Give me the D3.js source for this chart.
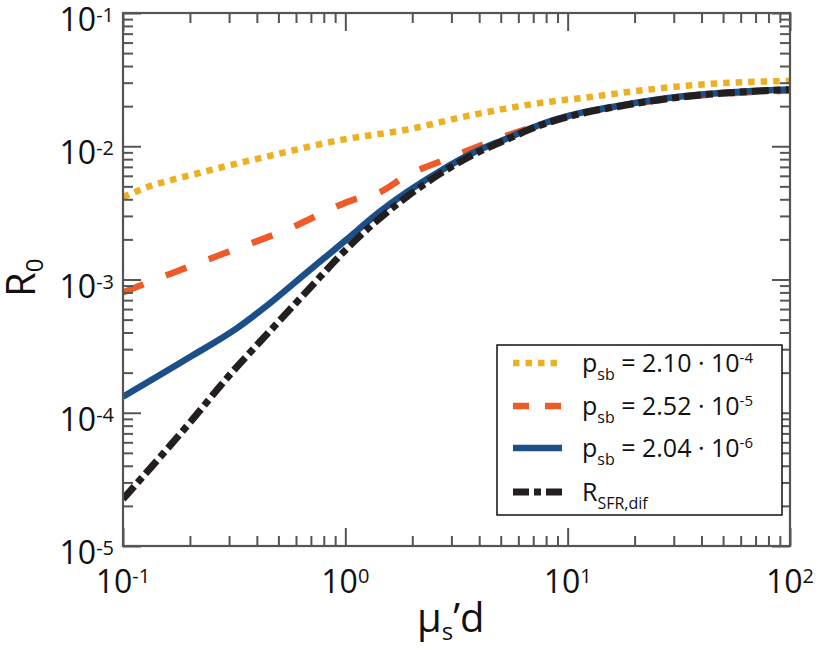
<!DOCTYPE html>
<html>
<head>
<meta charset="utf-8">
<script src="https://cdn.jsdelivr.net/npm/d3@7"></script>
<style>
  html, body { margin: 0; padding: 0; background: #fff; }
  svg text { font-family: "Open Sans", "Noto Sans", sans-serif; fill: #111; }
</style>
</head>
<body>
<svg id="chart" width="819" height="650"></svg>
<script>
// ---- data ----
const yellowX = [0.1, 0.123, 0.22, 0.49, 0.94, 1.88, 3.74, 8.3, 11.3, 23.4, 46.6, 100];
const yellowY = [4.15e-3, 4.8e-3, 6.3e-3, 8.7e-3, 1.11e-2, 1.33e-2, 1.72e-2, 2.16e-2, 2.29e-2, 2.67e-2, 2.96e-2, 3.09e-2];

const orangeX = [0.1, 0.174, 0.3, 0.52, 1.16, 1.4, 1.88, 3.04, 4.8, 7.5, 11.3, 16.6, 33, 50, 100];
const orangeY = [8.0e-4, 1.15e-3, 1.62e-3, 2.29e-3, 4.1e-3, 4.45e-3, 6.0e-3, 8.35e-3, 1.13e-2, 1.45e-2, 1.77e-2, 1.98e-2, 2.34e-2, 2.48e-2, 2.62e-2];

const blueX = [0.1, 0.2, 0.3245, 0.458, 0.692, 0.852, 1.0, 1.43, 1.88, 2.66, 3.74, 5.3, 7.5, 11.3, 16.6, 33, 50, 100];
const blueY = [1.32e-4, 2.62e-4, 4.3e-4, 6.64e-4, 1.18e-3, 1.57e-3, 1.96e-3, 3.23e-3, 4.5e-3, 6.5e-3, 8.9e-3, 1.14e-2, 1.45e-2, 1.77e-2, 2.0e-2, 2.37e-2, 2.52e-2, 2.67e-2];

const blackX = [0.1, 0.2, 0.3, 0.47, 0.7, 1.0, 1.33, 1.88, 2.66, 3.74, 5.3, 7.5, 11.3, 16.6, 33, 50, 100];
const blackY = [2.25e-5, 8.45e-5, 1.9e-4, 4.3e-4, 8.8e-4, 1.66e-3, 2.6e-3, 4.15e-3, 6.2e-3, 8.6e-3, 1.12e-2, 1.43e-2, 1.75e-2, 1.98e-2, 2.35e-2, 2.5e-2, 2.66e-2];

const legendLabels = [
  { main: "p", sub: "sb", rest: " = 2.10 · 10", sup: "-4" },
  { main: "p", sub: "sb", rest: " = 2.52 · 10", sup: "-5" },
  { main: "p", sub: "sb", rest: " = 2.04 · 10", sup: "-6" },
  { main: "R", sub: "SFR,dif", rest: "", sup: "" }
];

const xTickExps = [-1, 0, 1, 2];
const yTickExps = [-1, -2, -3, -4, -5];

// ---- layout ----
const svg = d3.select("#chart");
const L = 123, R = 790, T = 13, B = 546;
const x = d3.scaleLog().domain([0.1, 100]).range([L, R]);
const y = d3.scaleLog().domain([1e-5, 1e-1]).range([B, T]);

const series = [
  { xs: yellowX, ys: yellowY, color: "#ecb022", width: 6.5, dash: "6.5,6", legDash: "6.5,6" },
  { xs: orangeX, ys: orangeY, color: "#f05a28", width: 6.5, dash: "22,24", legDash: "16,16" },
  { xs: blueX, ys: blueY, color: "#1c4f88", width: 6.5, dash: null, legDash: null },
  { xs: blackX, ys: blackY, color: "#231f20", width: 7, dash: "17,5,7,5", legDash: "16,5,7,5" }
];

// clip
svg.append("defs").append("clipPath").attr("id", "clip")
  .append("rect").attr("x", L).attr("y", T).attr("width", R - L).attr("height", B - T);

const line = d3.line().x(d => x(d[0])).y(d => y(d[1])).curve(d3.curveMonotoneX);
const plot = svg.append("g").attr("clip-path", "url(#clip)");
series.forEach(s => {
  const pts = s.xs.map((v, i) => [v, s.ys[i]]);
  plot.append("path")
    .attr("d", line(pts))
    .attr("fill", "none")
    .attr("stroke", s.color)
    .attr("stroke-width", s.width)
    .attr("stroke-linecap", "butt")
    .attr("stroke-linejoin", "round")
    .attr("stroke-dasharray", s.dash);
});

// ---- axes (inward ticks, all four sides) ----
const axisColor = "#555";
const majorX = xTickExps.map(e => Math.pow(10, e));
const majorY = yTickExps.map(e => Math.pow(10, e));
const minorX = x.ticks().filter(v => !majorX.some(m => Math.abs(m - v) / m < 1e-6));
const minorY = y.ticks().filter(v => !majorY.some(m => Math.abs(m - v) / m < 1e-6));
const MAJ = 18, MIN = 10;

function styleAxis(g) {
  g.selectAll("path.domain").remove();
  g.selectAll("line").attr("stroke", axisColor).attr("stroke-width", 2);
  g.selectAll("text").remove();
}
function addAxis(gen, tx, ty, vals, size) {
  svg.append("g").attr("transform", `translate(${tx},${ty})`)
    .call(gen.tickValues(vals).tickSizeInner(-size).tickSizeOuter(0).tickFormat(""))
    .call(styleAxis);
}
addAxis(d3.axisBottom(x), 0, B, majorX, MAJ);
addAxis(d3.axisBottom(x), 0, B, minorX, MIN);
addAxis(d3.axisTop(x), 0, T, majorX, MAJ);
addAxis(d3.axisTop(x), 0, T, minorX, MIN);
addAxis(d3.axisLeft(y), L, 0, majorY, MAJ);
addAxis(d3.axisLeft(y), L, 0, minorY, MIN);
addAxis(d3.axisRight(y), R, 0, majorY, MAJ);
addAxis(d3.axisRight(y), R, 0, minorY, MIN);

svg.append("rect").attr("x", L).attr("y", T).attr("width", R - L).attr("height", B - T)
  .attr("fill", "none").attr("stroke", axisColor).attr("stroke-width", 2.2);

// ---- tick labels ----
xTickExps.forEach(e => {
  const t = svg.append("text").attr("x", x(Math.pow(10, e))).attr("y", 593)
    .attr("text-anchor", "middle").style("font-size", "32px");
  t.append("tspan").text("10");
  t.append("tspan").attr("dy", -10).style("font-size", "20px").text(String(e));
});
yTickExps.forEach(e => {
  const t = svg.append("text").attr("x", 114).attr("y", y(Math.pow(10, e)) + 18)
    .attr("text-anchor", "end").style("font-size", "32px");
  t.append("tspan").text("10");
  t.append("tspan").attr("dy", -9).style("font-size", "20px").text(String(e));
});

// ---- axis titles ----
const yl = svg.append("text").attr("transform", "translate(35,297) rotate(-90)")
  .style("font-size", "40px");
yl.append("tspan").text("R");
yl.append("tspan").attr("dy", 8).style("font-size", "24px").text("0");

const xl = svg.append("text").attr("x", 417).attr("y", 632).style("font-size", "40px");
xl.append("tspan").text("μ");
xl.append("tspan").attr("dy", 8).style("font-size", "24px").text("s");
xl.append("tspan").attr("dy", -8).text("’d");

// ---- legend ----
const leg = svg.append("g");
leg.append("rect").attr("x", 497).attr("y", 345).attr("width", 285).attr("height", 170)
  .attr("fill", "#fff").attr("stroke", "#111").attr("stroke-width", 1.5);
const rowY = [363, 406, 448, 492];
series.forEach((s, i) => {
  leg.append("line").attr("x1", 513).attr("x2", 562).attr("y1", rowY[i]).attr("y2", rowY[i])
    .attr("stroke", s.color).attr("stroke-width", s.width)
    .attr("stroke-dasharray", s.legDash).attr("stroke-linecap", "butt");
  const lab = legendLabels[i];
  const t = leg.append("text").attr("x", 582).attr("y", rowY[i] + 9).style("font-size", "25px");
  t.append("tspan").text(lab.main);
  t.append("tspan").attr("dy", 8).style("font-size", "16px").text(lab.sub);
  if (lab.rest) {
    t.append("tspan").attr("dy", -8).text(lab.rest);
    t.append("tspan").attr("dy", -9).style("font-size", "15px").text(lab.sup);
  }
});
</script>
</body>
</html>
